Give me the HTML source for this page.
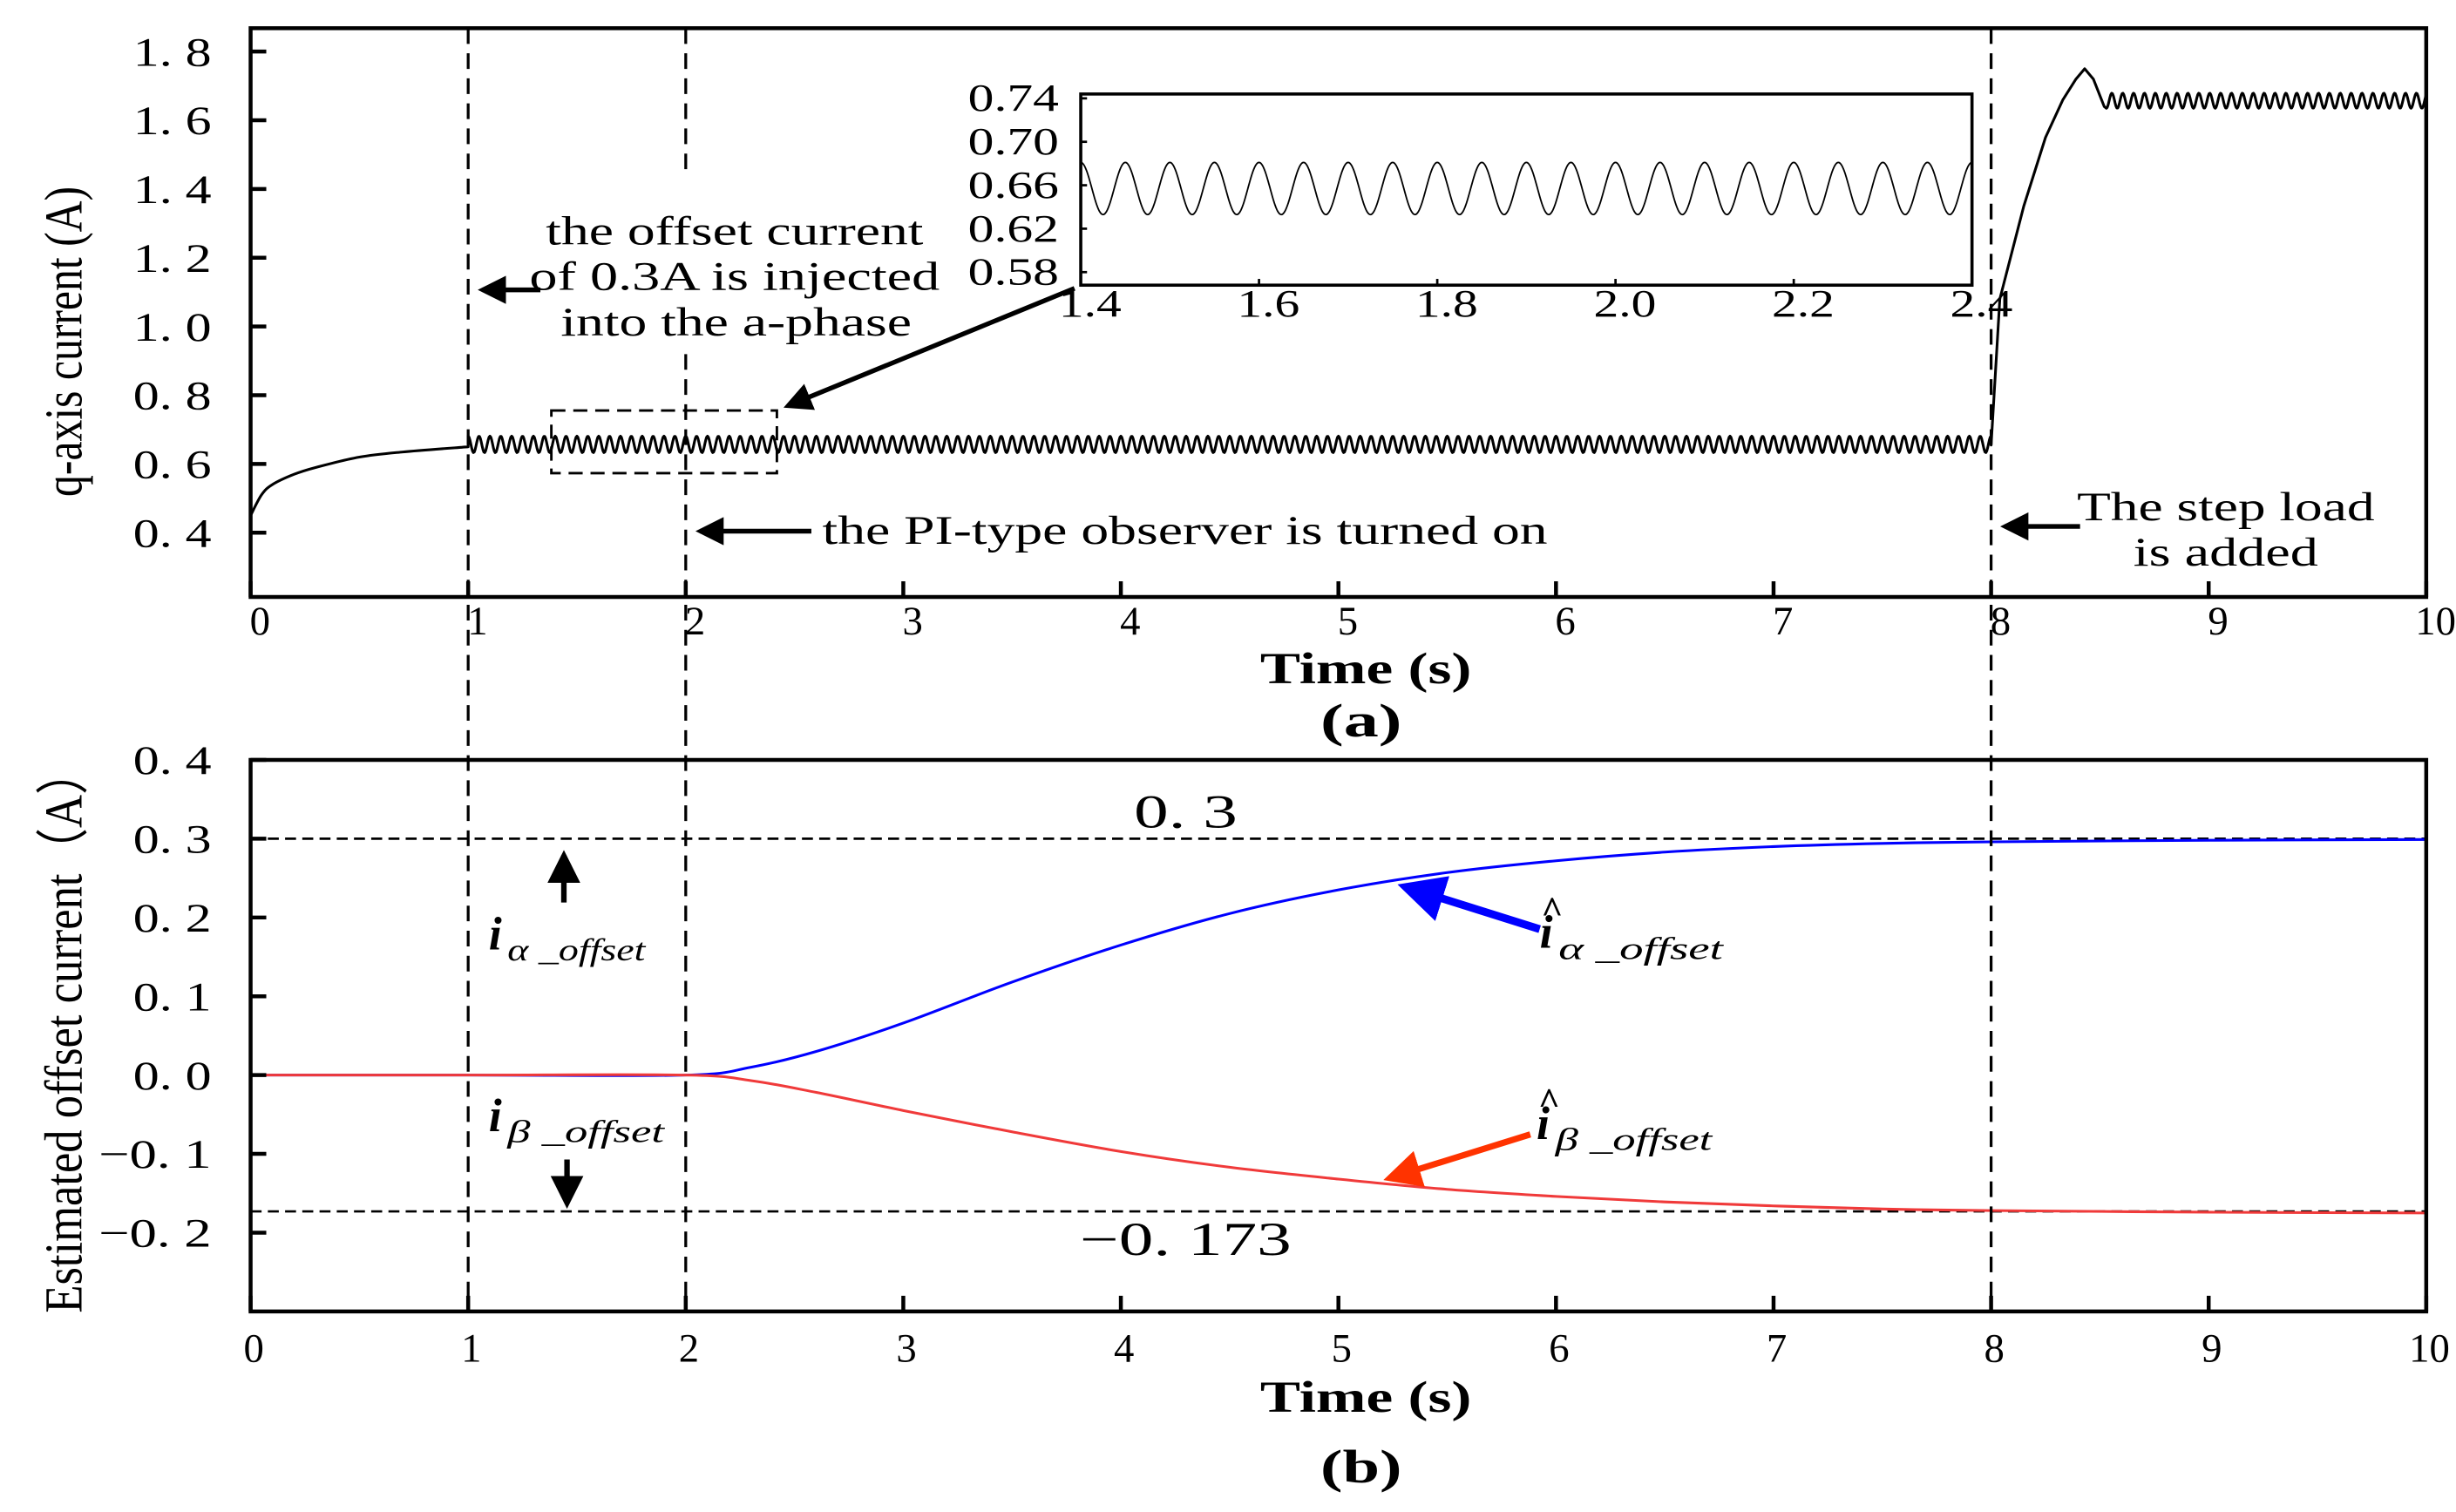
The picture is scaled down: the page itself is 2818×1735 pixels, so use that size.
<!DOCTYPE html>
<html><head><meta charset="utf-8"><style>
html,body{margin:0;padding:0;background:#fff;}
svg{display:block;}
text{font-family:"Liberation Serif",serif;fill:#000;}
</style></head><body>
<svg id="fig" width="2818" height="1735" viewBox="0 0 1568 965" preserveAspectRatio="none" xmlns="http://www.w3.org/2000/svg">
<rect x="0" y="0" width="1568" height="965" fill="#fff"/>
</svg>
<script>
// ---- data (top panel) ----
const topStartT = [0, 0.05, 0.1, 0.2, 0.3, 0.5, 0.7, 1.0];
const topStartV = [0.45, 0.51, 0.54, 0.57, 0.59, 0.62, 0.635, 0.65];
const rippleMean1 = 0.657;
const rippleAmp1 = 0.024;
const stepT = [8.0, 8.04, 8.15, 8.25, 8.33, 8.39, 8.43, 8.47, 8.52];
const stepV = [0.655, 1.08, 1.35, 1.55, 1.66, 1.72, 1.75, 1.72, 1.64];
const rippleMean2 = 1.657;
const rippleAmp2 = 0.022;
const rippleHz = [20];
const topYTicks = [0.4, 0.6, 0.8, 1.0, 1.2, 1.4, 1.6, 1.8];
const topYLabels = ["0. 4","0. 6","0. 8","1. 0","1. 2","1. 4","1. 6","1. 8"];
const xTicks = [0,1,2,3,4,5,6,7,8,9,10];
const insetXTicks = [1.4,1.6,1.8,2.0,2.2,2.4];
const insetYTicks = [0.58,0.62,0.66,0.70,0.74];
const insetYLabels = ["0.58","0.62","0.66","0.70","0.74"];
// ---- data (bottom panel) ----
const botT = [0, 1, 2, 2.3, 2.6, 3, 3.5, 4, 4.5, 5, 5.5, 6, 6.5, 7, 7.5, 8, 9, 10];
const alphaV = [0, 0, 0, 0.01, 0.03, 0.066, 0.118, 0.165, 0.205, 0.235, 0.257, 0.272, 0.283, 0.29, 0.294, 0.296, 0.298, 0.299];
const betaV  = [0, 0, 0, -0.007, -0.022, -0.045, -0.072, -0.097, -0.117, -0.132, -0.145, -0.154, -0.161, -0.166, -0.17, -0.172, -0.174, -0.175];
const botYTicks = [-0.2,-0.1,0,0.1,0.2,0.3,0.4];
const botYLabels = ["\u22120. 2","\u22120. 1","0. 0","0. 1","0. 2","0. 3","0. 4"];
const refLines = [0.3, -0.173];

const NS="http://www.w3.org/2000/svg";
const svg=document.getElementById('fig');
function mk(tag,attrs,parent){const e=document.createElementNS(NS,tag);for(const k in attrs)e.setAttribute(k,attrs[k]);(parent||svg).appendChild(e);return e;}
function txt(s,attrs,parent){const e=mk('text',attrs,parent);e.textContent=s;return e;}
function fitted(s,x,y,w,size,anchor,parent,extra){
  const a=Object.assign({x:x,y:y,'font-size':size,'text-anchor':anchor||'start',textLength:w,lengthAdjust:'spacingAndGlyphs'},extra||{});
  return txt(s,a,parent);
}
function smooth(P){
  let d='M'+P[0][0].toFixed(2)+','+P[0][1].toFixed(2);
  for(let i=0;i<P.length-1;i++){
    const p0=P[Math.max(0,i-1)],p1=P[i],p2=P[i+1],p3=P[Math.min(P.length-1,i+2)];
    const c1=[p1[0]+(p2[0]-p0[0])/6,p1[1]+(p2[1]-p0[1])/6];
    const c2=[p2[0]-(p3[0]-p1[0])/6,p2[1]-(p3[1]-p1[1])/6];
    d+='C'+c1.map(v=>v.toFixed(2)).join(',')+' '+c2.map(v=>v.toFixed(2)).join(',')+' '+p2.map(v=>v.toFixed(2)).join(',');
  }
  return d;
}

const X0=160,X1=1549;
const xs=t=>X0+(X1-X0)*t/10;
const tyT=v=>381-(v-0.213)/(1.868-0.213)*(381-18);
const tyB=v=>485+(0.4-v)/0.7*(837-485);

// ---------- top panel ----------
const gTop=mk('g',{});


let startPts=topStartT.map((t,i)=>[xs(t),tyT(topStartV[i])]);
let d=smooth(startPts);
const f=rippleHz[0];
let rip=[];
for(let t=1.0;t<=8.0;t+=0.004)rip.push([t,rippleMean1-rippleAmp1*Math.sin(2*Math.PI*f*(t-1)-Math.PI/2)]);
d+='L'+rip.map(p=>xs(p[0]).toFixed(2)+','+tyT(p[1]).toFixed(2)).join('L');
d+='L'+stepT.map((t,i)=>xs(t).toFixed(2)+','+tyT(stepV[i]).toFixed(2)).join('L');
rip=[];
for(let t=8.53;t<=10;t+=0.004)rip.push([t,rippleMean2-rippleAmp2*Math.sin(2*Math.PI*f*(t-8.53)+Math.PI/2)]);
d+='L'+rip.map(p=>xs(p[0]).toFixed(2)+','+tyT(p[1]).toFixed(2)).join('L');
const pTop=mk('path',{d:d,fill:'none',stroke:'#000','stroke-width':1.7,'stroke-linejoin':'round'},gTop);


const fr1=mk('rect',{x:X0,y:18,width:X1-X0,height:363,fill:'none',stroke:'#000','stroke-width':2.5},gTop);


topYTicks.forEach((v,i)=>{
  mk('line',{x1:X0,x2:X0+10,y1:tyT(v),y2:tyT(v),stroke:'#000','stroke-width':2.5},gTop);
  const l=fitted(topYLabels[i],135,tyT(v)+9,50,26,'end',gTop);
  
  
});
xTicks.forEach(t=>{
  mk('line',{x1:xs(t),x2:xs(t),y1:381,y2:371,stroke:'#000','stroke-width':2.5},gTop);
  const l=txt(String(t),{x:xs(t)+6,y:405,'font-size':26,'text-anchor':'middle'},gTop);
  
  
});
let at=txt('q-axis current (A)',{x:0,y:0,'font-size':34,'text-anchor':'middle',transform:'translate(52,218) rotate(-90)',textLength:198,lengthAdjust:'spacingAndGlyphs'},gTop);


at=fitted('Time (s)',872,436,135,28,'middle',gTop,{'font-weight':'bold'});


at=fitted('(a)',869,470,52,30,'middle',gTop,{'font-weight':'bold'});



// ---------- bottom panel ----------
const gBot=mk('g',{});


refLines.forEach(v=>{
  const l=mk('line',{x1:X0,x2:X1,y1:tyB(v),y2:tyB(v),stroke:'#000','stroke-width':1.5,'stroke-dasharray':'7,4'},gBot);
  
  
});
function series(vals,color,name){
  const P=botT.map((t,i)=>[xs(t),tyB(vals[i])]);
  const p=mk('path',{d:smooth(P),fill:'none',stroke:color,'stroke-width':1.7,'stroke-linejoin':'round'},gBot);
  
  
}
series(alphaV,'#0000ff','alpha-offset-line');
series(betaV,'#f03a3a','beta-offset-line');
const fr2=mk('rect',{x:X0,y:485,width:X1-X0,height:352,fill:'none',stroke:'#000','stroke-width':2.5},gBot);


botYTicks.forEach((v,i)=>{
  mk('line',{x1:X0,x2:X0+10,y1:tyB(v),y2:tyB(v),stroke:'#000','stroke-width':2.5},gBot);
  const w=botYLabels[i].length>4?72:50;
  const l=fitted(botYLabels[i],135,tyB(v)+9,w,26,'end',gBot);
  
  
});
xTicks.forEach(t=>{
  mk('line',{x1:xs(t),x2:xs(t),y1:837,y2:827,stroke:'#000','stroke-width':2.5},gBot);
  const l=txt(String(t),{x:xs(t)+2,y:869,'font-size':26,'text-anchor':'middle'},gBot);
  
  
});
at=txt('Estimated offset current\uFF08A\uFF09',{x:0,y:0,'font-size':34,'text-anchor':'middle',transform:'translate(52,658) rotate(-90)',textLength:360,lengthAdjust:'spacingAndGlyphs'},gBot);


at=fitted('Time (s)',872,901,135,28,'middle',gBot,{'font-weight':'bold'});


at=fitted('(b)',869,946,52,30,'middle',gBot,{'font-weight':'bold'});



// ---------- vertical event lines ----------
[1,2,8].forEach(t=>{
  const l=mk('line',{x1:xs(t),x2:xs(t),y1:18,y2:837,stroke:'#000','stroke-width':1.8,'stroke-dasharray':'10,6'});
  
  
});

// ---------- annotations ----------
const defs=mk('defs',{});
function arrowHead(id,color){const m=mk('marker',{id:id,markerWidth:6,markerHeight:6,refX:5,refY:3,orient:'auto',markerUnits:'strokeWidth'},defs);mk('path',{d:'M0,0L6,3L0,6Z',fill:color},m);}
arrowHead('ak','#000');arrowHead('ab','#0000ff');arrowHead('ar','#ff3300');
function arrow(x1,y1,x2,y2,color,w,mid,name){
  const l=mk('line',{x1:x1,y1:y1,x2:x2,y2:y2,stroke:color,'stroke-width':w,'marker-end':'url(#'+mid+')'});
  
  
}
mk('rect',{x:338,y:110,width:264,height:112,fill:'#fff'});
[['the offset current',469,156,241],['of 0.3A is injected',469,185,262],['into the a-phase',470,214,224]].forEach(r=>{
  const t=fitted(r[0],r[1],r[2],r[3],26,'middle');
  
  
});
arrow(345,185,308,185,'#000',3,'ak','arrow-offset-injection');
const zb=mk('rect',{x:352,y:262,width:144,height:40,fill:'none',stroke:'#000','stroke-width':1.6,'stroke-dasharray':'9,5'});


arrow(686,184,503,259,'#000',3,'ak','arrow-zoom-inset');
const t2=fitted('the PI-type observer is turned on',525,347,463,26,'start');


arrow(518,339,447,339,'#000',3,'ak','arrow-observer-on');
[['The step load',1421,332,190],['is added',1421,361,118]].forEach(r=>{
  const t=fitted(r[0],r[1],r[2],r[3],26,'middle');
  
  
});
arrow(1328,336,1280,336,'#000',3,'ak','arrow-step-load');

// ---------- inset ----------
const IX0=690,IX1=1259,IY0=60,IY1=182;
const ix=t=>IX0+(IX1-IX0)*(t-1.4)/1.0;
const iy=v=>IY1-(v-0.568)/(0.744-0.568)*(IY1-IY0);
const gIn=mk('g',{});


mk('rect',{x:IX0,y:IY0,width:IX1-IX0,height:IY1-IY0,fill:'#fff'},gIn);
let ip=[];
for(let t=1.4;t<=2.4;t+=0.001)ip.push([t,rippleMean1-rippleAmp1*Math.sin(2*Math.PI*f*(t-1)-Math.PI/2)]);
const ipath=mk('path',{d:'M'+ip.map(p=>ix(p[0]).toFixed(2)+','+iy(p[1]).toFixed(2)).join('L'),fill:'none',stroke:'#000','stroke-width':1},gIn);


mk('rect',{x:IX0,y:IY0,width:IX1-IX0,height:IY1-IY0,fill:'none',stroke:'#000','stroke-width':2},gIn);
insetYTicks.forEach((v,i)=>{
  mk('line',{x1:IX0,x2:IX0+4,y1:iy(v),y2:iy(v),stroke:'#000','stroke-width':1.5},gIn);
  const l=fitted(insetYLabels[i],676,iy(v)+8,58,25,'end',gIn);
  
  
});
insetXTicks.forEach(t=>{
  mk('line',{x1:ix(t),x2:ix(t),y1:IY1,y2:IY1-4,stroke:'#000','stroke-width':1.5},gIn);
  const l=fitted(t.toFixed(1),ix(t)+6,202,40,25,'middle',gIn);
  
  
});

// ---------- bottom annotations ----------
arrow(360,576,360,546,'#000',3.5,'ak','arrow-alpha-true');
arrow(362,740,362,768,'#000',3.5,'ak','arrow-beta-true');
function lbl(x,y,sub,subW,color,hat,name){
  const t=txt('i',{x:x,y:y,'font-size':30,'font-style':'italic','font-weight':'bold',fill:color});
  
  
  const s=fitted(sub,x+12,y+7,subW,20,'start',null,{'font-style':'italic',fill:color});
  
  
  if(hat){const h=txt('^',{x:x+1,y:y-16,'font-size':24,'font-weight':'bold',fill:color});}
}
lbl(312,606,'\u03B1 _offset',88,'#000',false,'alpha-true-label');
lbl(312,722,'\u03B2 _offset',100,'#000',false,'beta-true-label');
lbl(983,605,'\u03B1 _offset',105,'#0000ff',true,'alpha-estimate-label');
lbl(981,727,'\u03B2 _offset',100,'#ff0000',true,'beta-estimate-label');
arrow(983,593,897,566,'#0000ff',5,'ab','arrow-alpha-estimate');
arrow(977,724,887,752,'#ff3300',4,'ar','arrow-beta-estimate');
let r=fitted('0. 3',757,528,66,30,'middle');


r=fitted('\u22120. 173',757,801,135,30,'middle');


</script>
</body></html>
